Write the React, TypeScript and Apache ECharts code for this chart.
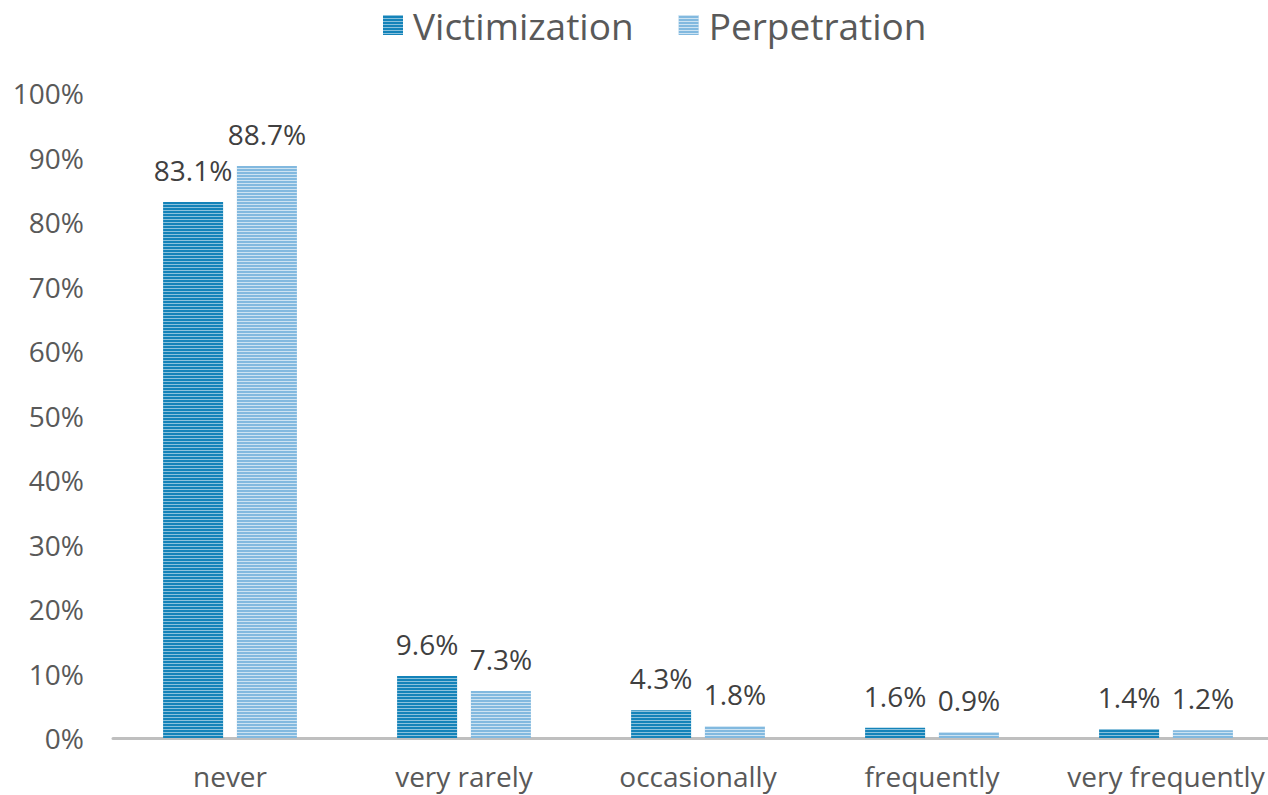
import React, { useEffect, useRef } from "react";
import * as echarts from "echarts";

const categories = ["never", "very rarely", "occasionally", "frequently", "very frequently"];
const victimization = [83.1, 9.6, 4.3, 1.6, 1.4];
const perpetration = [88.7, 7.3, 1.8, 0.9, 1.2];
const seriesNames = ["Victimization", "Perpetration"];

const FONT = "'Open Sans', sans-serif";

export default function App() {
  const ref = useRef<HTMLDivElement>(null);
  useEffect(() => {
    const chart = echarts.init(ref.current!, null, { renderer: "svg" });
    const mkDecal = (c: string) => ({
      symbol: "rect",
      symbolSize: 1,
      color: c,
      dashArrayX: [1, 0],
      dashArrayY: [1, 2],
      rotation: 0,
    });
    const label = {
      show: true,
      position: "top",
      distance: 18,
      formatter: (p: any) => p.value.toFixed(1) + "%",
      color: "#404040",
      fontSize: 28,
      fontFamily: FONT,
    };
    chart.setOption({
      animation: false,
      legend: {
        top: 5,
        left: 383,
        padding: 0,
        icon: "rect",
        itemWidth: 20,
        itemHeight: 20,
        itemGap: 45,
        textStyle: { fontSize: 37, lineHeight: 40, color: "#595959", fontFamily: FONT, padding: [0, 0, 0, 5] },
        data: seriesNames,
      },
      grid: { left: 113, right: 0, top: 93, bottom: 57, containLabel: false },
      xAxis: {
        type: "category",
        data: categories,
        axisLine: { lineStyle: { color: "#bfbfbf", width: 3 } },
        axisTick: { show: false },
        axisLabel: { fontSize: 28, color: "#595959", fontFamily: FONT, margin: 24, interval: 0 },
      },
      yAxis: {
        type: "value",
        min: 0,
        max: 100,
        interval: 10,
        splitLine: { show: false },
        axisLine: { show: false },
        axisTick: { show: false },
        axisLabel: { formatter: "{value}%", fontSize: 28, color: "#595959", fontFamily: FONT, margin: 29 },
      },
      series: [
        {
          name: seriesNames[0],
          type: "bar",
          data: victimization,
          barWidth: 60,
          barGap: "23%",
          itemStyle: { color: "#1483b9", decal: mkDecal("rgba(255,255,255,0.5)") },
          label,
        },
        {
          name: seriesNames[1],
          type: "bar",
          data: perpetration,
          barWidth: 60,
          itemStyle: { color: "#82b9df", decal: mkDecal("rgba(255,255,255,0.6)") },
          label,
        },
      ],
    });
    return () => chart.dispose();
  }, []);
  return (
    <div style={{ position: "fixed", left: 0, top: 0, width: 1268, height: 795, overflow: "hidden", background: "#fff" }}>
      <div ref={ref} style={{ width: 1283, height: 795 }} />
    </div>
  );
}
